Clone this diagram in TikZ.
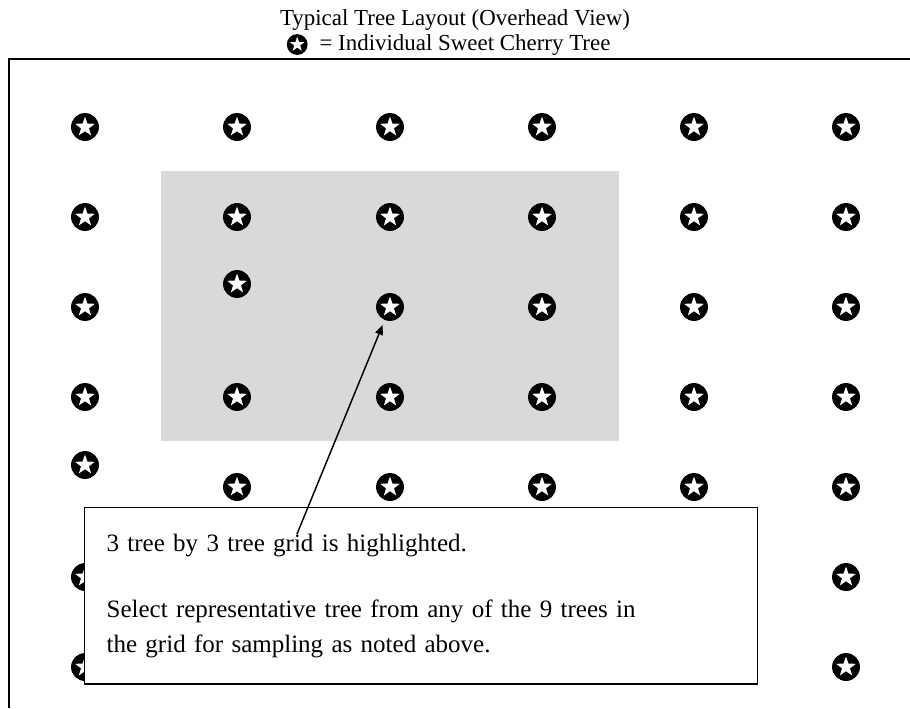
\documentclass[tikz,border=0pt]{standalone}
\usepackage{fontspec}
\setmainfont{Liberation Serif}
\usetikzlibrary{shapes.geometric,arrows.meta,positioning}
\newcommand{\cherrytree}[2] {\node at (#1) (#2) [treedot] {}; \node at (#1) (#2s) [treestar] {};}
\newcommand{\legendtree}[2] {\node [keydot, #1] (#2) {}; \node at (#2) (#2s) [keystar] {};}

\begin{document}
\begin{tikzpicture}[x=0.48pt, y=-0.48pt,
  font=\fontsize{12}{16.8}\selectfont,
  headline/.style={anchor=base, font=\fontsize{11}{13}\selectfont},
  treedot/.style={circle, fill=black, inner sep=0pt, minimum size=13.4pt},
  treestar/.style={star, star points=5, star point ratio=2.5, fill=white, inner sep=0pt, minimum size=10pt},
  keydot/.style={circle, fill=black, inner sep=0pt, minimum size=10pt},
  keystar/.style={star, star points=5, star point ratio=2.5, fill=white, inner sep=0pt, minimum size=7.4pt},
  notebox/.style={draw, fill=white, line width=0.7pt, align=left, text width=302pt, inner xsep=10.5pt, minimum height=84.5pt}]
\useasboundingbox (0,0) rectangle (910,708);

\node [headline] at (455,25) (title) {Typical Tree Layout (Overhead View)};
\node [headline] at (465,50) (legend) {= Individual Sweet Cherry Tree};
\legendtree {left=2pt of legend} {key}

% field outline, runs off the page
\draw [line width=1pt] (9,708) -- (9,59) -- (910,59);

% 3 x 3 grid
\node [fill=black!15, anchor=north west, inner sep=0pt, minimum width=219.8pt, minimum height=129.6pt] at (161,171) (grid) {};

\cherrytree {85,127} {t11}
\cherrytree {237,127} {t12}
\cherrytree {390,127} {t13}
\cherrytree {542,127} {t14}
\cherrytree {694,127} {t15}
\cherrytree {846,127} {t16}

\cherrytree {85,217} {t21}
\cherrytree {237,217} {t22}
\cherrytree {390,217} {t23}
\cherrytree {542,217} {t24}
\cherrytree {694,217} {t25}
\cherrytree {846,217} {t26}

\cherrytree {85,307} {t31}
\cherrytree {237,284} {t32}
\cherrytree {390,307} {t33}
\cherrytree {542,307} {t34}
\cherrytree {694,307} {t35}
\cherrytree {846,307} {t36}

\cherrytree {85,397} {t41}
\cherrytree {237,397} {t42}
\cherrytree {390,397} {t43}
\cherrytree {542,397} {t44}
\cherrytree {694,397} {t45}
\cherrytree {846,397} {t46}

\cherrytree {85,465} {t51}
\cherrytree {237,487} {t52}
\cherrytree {390,487} {t53}
\cherrytree {542,487} {t54}
\cherrytree {694,487} {t55}
\cherrytree {846,487} {t56}

\cherrytree {85,577} {t61}
\cherrytree {846,577} {t66}
\cherrytree {85,667} {t71}
\cherrytree {846,667} {t76}

\node [notebox, anchor=north west] at (84,507) (note) {3 tree by 3 tree grid is highlighted.\\[14.9pt]
Select representative tree from any of the 9 trees in\\
the grid for sampling as noted above.};

\coordinate (tail) at (297,534);
\draw [-{Triangle[length=4.8pt, width=3.8pt]}, line width=0.7pt, shorten >=2.3pt] (tail) -- (t33);
\end{tikzpicture}
\end{document}
